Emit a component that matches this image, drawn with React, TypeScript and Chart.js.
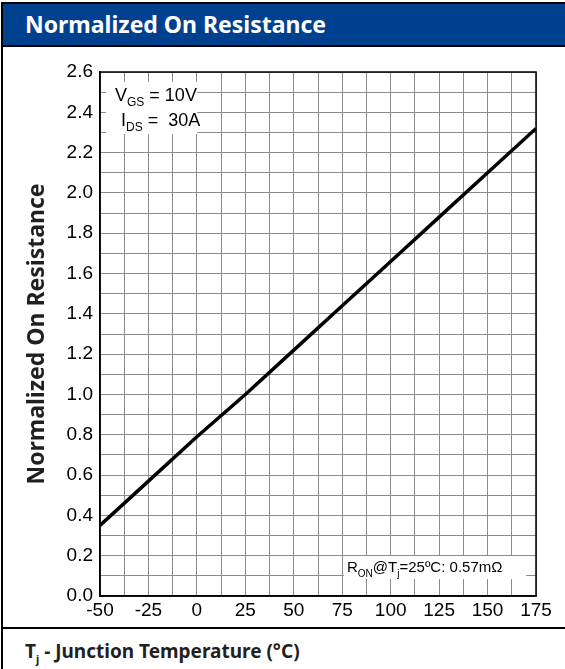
import React, { useEffect, useRef } from "react";
import { Chart, registerables } from "chart.js";

Chart.register(...registerables);

const temperatures = [-50, -25, 0, 25, 50, 75, 100, 125, 150, 175];
const normalizedRon = [0.35, 0.57, 0.79, 1.0, 1.22, 1.44, 1.66, 1.88, 2.1, 2.32];
const xMin = -50;
const xMax = 175;
const yMin = 0;
const yMax = 2.6;

const TITLE = "Normalized On Resistance";
const Y_TITLE = "Normalized On Resistance";
const TEXT_COLOR = "#231f20";
const BOLD_FONT = "'Noto Sans', 'Open Sans', sans-serif";
const TICK_FONT = "'Liberation Sans', Arial, sans-serif";

function drawSubText(
  ctx: CanvasRenderingContext2D,
  parts: { t: string; sub?: boolean }[],
  x: number,
  y: number,
  size: number
) {
  let cx = x;
  for (const p of parts) {
    const s = p.sub ? Math.round(size * 0.68) : size;
    ctx.font = `${s}px ${TICK_FONT}`;
    ctx.fillText(p.t, cx, p.sub ? y + size * 0.3 : y);
    cx += ctx.measureText(p.t).width;
  }
}

const framePlugin = {
  id: "frame",
  beforeDatasetsDraw(chart: any) {
    const { ctx, chartArea: a } = chart;
    ctx.save();
    ctx.strokeStyle = "#000";
    ctx.lineWidth = 1.5;
    ctx.strokeRect(a.left, a.top, a.right - a.left, a.bottom - a.top);
    ctx.restore();
  },
  afterDatasetsDraw(chart: any) {
    const { ctx, chartArea: a } = chart;
    ctx.save();
    // top-left condition box
    ctx.fillStyle = "#fff";
    ctx.fillRect(a.left + 6, a.top + 10, 91, 52);
    ctx.fillStyle = "#000";
    ctx.textBaseline = "alphabetic";
    ctx.textAlign = "left";
    drawSubText(ctx, [{ t: "V" }, { t: "GS", sub: true }, { t: " = 10V" }], a.left + 15, a.top + 29, 18);
    drawSubText(ctx, [{ t: "I" }, { t: "DS", sub: true }, { t: " =  30A" }], a.left + 21, a.top + 54, 18);
    // bottom-right note box
    ctx.fillStyle = "#fff";
    ctx.fillRect(a.left + 244, a.bottom - 40, 182, 23);
    ctx.fillStyle = "#000";
    drawSubText(
      ctx,
      [{ t: "R" }, { t: "ON", sub: true }, { t: "@T" }, { t: "j", sub: true }, { t: "=25ºC: 0.57mΩ" }],
      a.left + 247,
      a.bottom - 24,
      15
    );
    ctx.restore();
  },
};

export default function App() {
  const ref = useRef<HTMLCanvasElement | null>(null);

  useEffect(() => {
    document.body.style.margin = "0";
    const canvas = ref.current!;
    const chart = new Chart(canvas, {
      type: "line",
      data: {
        datasets: [
          {
            data: temperatures.map((t, i) => ({ x: t, y: normalizedRon[i] })),
            borderColor: "#000",
            borderWidth: 3.5,
            pointRadius: 0,
            tension: 0,
            fill: false,
          },
        ],
      },
      options: {
        animation: false,
        responsive: false,
        devicePixelRatio: 1,
        layout: { padding: { top: 25, right: 29, left: 0, bottom: 0 } },
        plugins: { legend: { display: false }, tooltip: { enabled: false } },
        scales: {
          x: {
            type: "linear",
            min: xMin,
            max: xMax,
            afterFit: (s: any) => {
              s.height = 31;
            },
            grid: { color: "#8c8c8c", lineWidth: 1, drawTicks: false },
            border: { display: true, color: "#000", width: 1.5 },
            ticks: {
              stepSize: 12.5,
              autoSkip: false,
              maxRotation: 0,
              padding: 3,
              color: "#000",
              font: { family: TICK_FONT, size: 19 },
              callback: (v: any) => (Math.abs(Number(v) % 25) < 1e-6 ? String(v) : ""),
            },
          },
          y: {
            type: "linear",
            min: yMin,
            max: yMax,
            afterFit: (s: any) => {
              s.width = 97;
            },
            grid: { color: "#8c8c8c", lineWidth: 1, drawTicks: false },
            border: { display: true, color: "#000", width: 1.5 },
            title: {
              display: true,
              text: Y_TITLE,
              color: TEXT_COLOR,
              font: { family: BOLD_FONT, size: 23, weight: "bold" },
              padding: { top: 21, bottom: 0 },
            },
            ticks: {
              stepSize: 0.1,
              autoSkip: false,
              padding: 7,
              color: "#000",
              font: { family: TICK_FONT, size: 19 },
              callback: (v: any) => {
                const n = Math.round(Number(v) * 10);
                return n % 2 === 0 ? (n / 10).toFixed(1) : "";
              },
            },
          },
        },
      },
      plugins: [framePlugin],
    } as any);
    return () => chart.destroy();
  }, []);

  return (
    <div style={{ position: "absolute", left: 0, top: 0, width: 565, height: 669, overflow: "hidden", background: "#fff" }}>
      <div style={{ position: "absolute", left: 1, top: 2, width: 600, height: 700, border: "2px solid #000", boxSizing: "border-box" }} />
      <div
        style={{
          position: "absolute",
          left: 3,
          top: 4,
          width: 600,
          height: 41,
          background: "#00418f",
          borderBottom: "2px solid #000",
        }}
      />
      <div
        style={{
          position: "absolute",
          left: 25,
          top: 4,
          height: 41,
          lineHeight: "41px",
          color: "#fff",
          fontFamily: BOLD_FONT,
          fontWeight: "bold",
          fontSize: 23,
          whiteSpace: "nowrap",
        }}
      >
        {TITLE}
      </div>
      <canvas ref={ref} width={562} height={580} style={{ position: "absolute", left: 3, top: 47, width: 562, height: 580 }} />
      <div style={{ position: "absolute", left: 3, top: 627, width: 600, height: 2, background: "#000" }} />
      <div
        style={{
          position: "absolute",
          left: 25,
          top: 636,
          height: 30,
          lineHeight: "30px",
          color: TEXT_COLOR,
          fontFamily: BOLD_FONT,
          fontWeight: "bold",
          fontSize: 19,
          whiteSpace: "nowrap",
        }}
      >
        T<sub style={{ fontSize: 11, verticalAlign: "-5px", lineHeight: 0 }}>j</sub> - Junction Temperature (°C)
      </div>
    </div>
  );
}
